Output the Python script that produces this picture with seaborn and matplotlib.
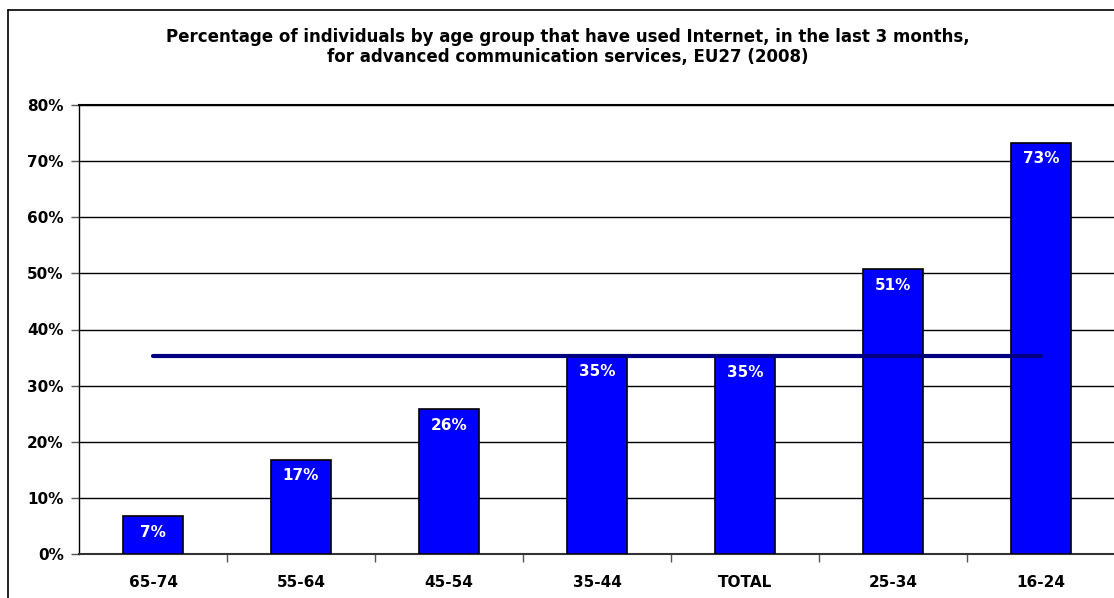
import numpy as np
import matplotlib
matplotlib.use('Agg')
import matplotlib.pyplot as plt
import seaborn as sns
from matplotlib.lines import Line2D
from matplotlib.ticker import FuncFormatter, MultipleLocator

# Data
age_groups = ['65-74', '55-64', '45-54', '35-44', 'TOTAL', '25-34', '16-24']
usage_pct = [6.7, 16.8, 25.8, 35.3, 35.2, 50.7, 73.3]
total_pct = 35.2

sns.set_style('white')
plt.rcParams['font.family'] = ['DejaVu Sans']
plt.rcParams['font.weight'] = 'bold'
plt.rcParams['text.color'] = 'black'
plt.rcParams['xtick.color'] = 'black'
plt.rcParams['ytick.color'] = 'black'

fig = plt.figure(figsize=(11.14, 5.98), dpi=100)
W, H = 1114, 598
ax = fig.add_axes([79 / W, (H - 554) / H, (1115 - 79) / W, (554 - 105) / H])

sns.barplot(x=age_groups, y=usage_pct, color='#0000FF', edgecolor='black',
            linewidth=1.2, width=0.4, saturation=1, ax=ax, zorder=3)

# EU27 total reference line across the categories
sns.lineplot(x=age_groups, y=[total_pct] * len(age_groups), sort=False,
             color='#000080', linewidth=3, ax=ax, zorder=4)

for i, v in enumerate(usage_pct):
    ax.annotate(f'{round(v)}%', xy=(i, v), xytext=(0, -6), textcoords='offset points',
                ha='center', va='top', color='white', fontsize=11, fontweight='bold',
                zorder=5)

ax.set_ylim(0, 80)
ax.set_xlim(-0.5, len(age_groups) - 0.5)
ax.yaxis.set_major_locator(MultipleLocator(10))
ax.yaxis.set_major_formatter(FuncFormatter(lambda y, _: f'{int(y)}%'))
ax.grid(axis='y', color='black', linewidth=1, zorder=0)
ax.set_axisbelow(True)

ax.tick_params(axis='y', which='major', length=6, width=1, color='#555555',
               direction='out', left=True, labelsize=11, pad=5)
ax.tick_params(axis='x', which='major', length=0, labelsize=11, pad=15)
ax.set_xticks(np.arange(len(age_groups) - 1) + 0.5, minor=True)
ax.tick_params(axis='x', which='minor', length=6, width=1, color='#555555',
               direction='out', bottom=True)

for lab in ax.get_xticklabels() + ax.get_yticklabels():
    lab.set_fontweight('bold')

ax.spines['left'].set_color('black')
ax.spines['left'].set_linewidth(1)
ax.spines['bottom'].set_color('#333333')
ax.spines['bottom'].set_linewidth(1.5)
ax.spines['top'].set_color('black')
ax.spines['top'].set_linewidth(1.5)
ax.spines['right'].set_visible(False)
ax.set_xlabel('')
ax.set_ylabel('')

fig.text(568 / W, 1 - 47 / H,
         'Percentage of individuals by age group that have used Internet, in the last 3 months,\n'
         'for advanced communication services, EU27 (2008)',
         ha='center', va='center', fontsize=12, fontweight='bold', linespacing=1.15)

# outer chart-area frame (top and left edges visible)
fig.add_artist(Line2D([8 / W, 8 / W], [0, 1 - 10 / H], color='black', linewidth=1.2,
                      transform=fig.transFigure))
fig.add_artist(Line2D([8 / W, 1], [1 - 10 / H, 1 - 10 / H], color='black', linewidth=1.2,
                      transform=fig.transFigure))

fig.savefig('out.png', dpi=100)
